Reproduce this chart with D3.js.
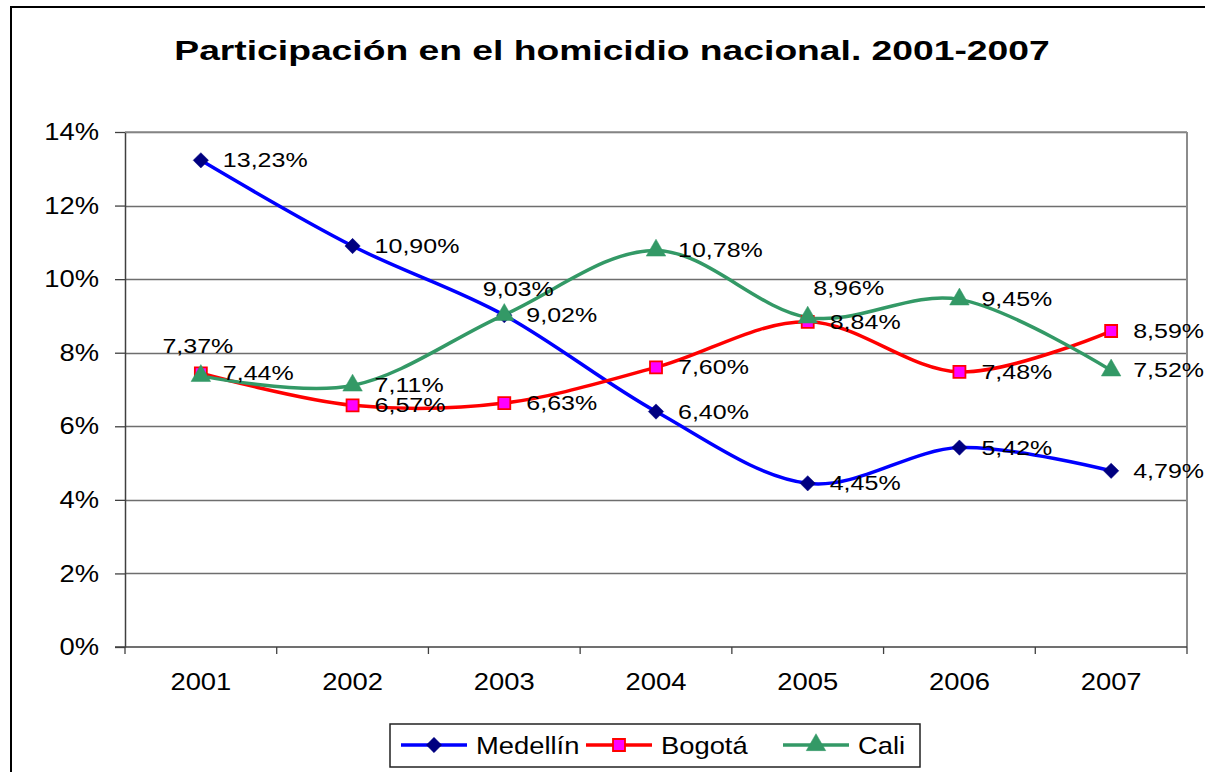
<!DOCTYPE html>
<html>
<head>
<meta charset="utf-8">
<script src="https://cdn.jsdelivr.net/npm/d3@7"></script>
<style>
  body { margin: 0; background: #fff; }
  svg { display: block; font-family: "Liberation Sans", Arial, sans-serif; }
</style>
</head>
<body>
<div id="chart"></div>
<script>
// Participación en el homicidio nacional, 2001-2007 (%)
const years = ["2001", "2002", "2003", "2004", "2005", "2006", "2007"];
const medellin = [13.23, 10.90, 9.02, 6.40, 4.45, 5.42, 4.79];
const bogota = [7.44, 6.57, 6.63, 7.60, 8.84, 7.48, 8.59];
const cali = [7.37, 7.11, 9.03, 10.78, 8.96, 9.45, 7.52];
const yTicks = [0, 2, 4, 6, 8, 10, 12, 14];

const w = 1205, h = 772;
const plot = { left: 125, right: 1187, top: 132, bottom: 647 };

const series = [
    { name: "Medellín", values: medellin, line: "#0000ff", marker: "diamond", fill: "#000080", stroke: "#000080" },
    { name: "Bogotá", values: bogota, line: "#ff0000", marker: "square", fill: "#ff00ff", stroke: "#ff0000" },
    { name: "Cali", values: cali, line: "#339966", marker: "triangle", fill: "#339966", stroke: "#339966" }
];

// labels that were moved above the point (to avoid overlapping)
const labelAbove = { "Cali-2001": [-3, -23], "Cali-2003": [14, -19], "Cali-2005": [41, -22] };

// the reference picture is stretched sideways, so text is too
function stretch(sel, sx) {
    sel.each(function() {
        let t = d3.select(this);
        let x = +t.attr("x") || 0;
        let y = +t.attr("y") || 0;
        t.attr("x", 0).attr("y", 0)
            .attr("transform", "translate(" + x + "," + y + ") scale(" + sx + ",1)");
    });
}

let svg = d3.select("#chart").append("svg")
    .attr("width", w)
    .attr("height", h);

// outer frame
svg.append("rect")
    .attr("x", 11).attr("y", 7)
    .attr("width", w + 20).attr("height", h + 20)
    .attr("fill", "#fff")
    .attr("stroke", "#000")
    .attr("stroke-width", 2);

let title = svg.append("text")
    .attr("x", 612).attr("y", 60)
    .attr("text-anchor", "middle")
    .style("font-size", "27px")
    .style("font-weight", "bold")
    .text("Participación en el homicidio nacional. 2001-2007");
stretch(title, 1.38);

let xScale = d3.scaleBand().domain(years).range([plot.left, plot.right]);
let yScale = d3.scaleLinear().domain([0, 14]).range([plot.bottom, plot.top]);

// gridlines
svg.append("g")
    .selectAll("line")
    .data(yTicks.filter(d => d > 0))
    .enter()
    .append("line")
    .attr("x1", plot.left).attr("x2", plot.right)
    .attr("y1", d => Math.round(yScale(d)) + 0.5)
    .attr("y2", d => Math.round(yScale(d)) + 0.5)
    .attr("stroke", "#6e6e6e")
    .attr("stroke-width", 1.3);

// plot border right
svg.append("line")
    .attr("x1", plot.right).attr("x2", plot.right)
    .attr("y1", plot.top).attr("y2", plot.bottom)
    .attr("stroke", "#8c8c8c")
    .attr("stroke-width", 2);

// y axis
let yAxis = d3.axisLeft(yScale)
    .tickValues(yTicks)
    .tickSize(10)
    .tickSizeOuter(0)
    .tickPadding(16)
    .tickFormat(d => d + "%");
let yg = svg.append("g")
    .attr("transform", "translate(" + plot.left + ",0)")
    .call(yAxis);
yg.select(".domain").attr("stroke", "#404040").attr("stroke-width", 1.5);
yg.selectAll(".tick line").attr("stroke", "#404040").attr("stroke-width", 1.3);
yg.selectAll(".tick text")
    .attr("fill", "#000")
    .style("font-size", "24px")
    .style("font-family", "Liberation Sans, Arial, sans-serif");
stretch(yg.selectAll(".tick text"), 1.14);

// x axis: labels centred in each category, ticks on category edges
let xAxis = d3.axisBottom(xScale).tickSize(0).tickPadding(26);
let xg = svg.append("g")
    .attr("transform", "translate(0," + plot.bottom + ")")
    .call(xAxis);
xg.select(".domain").remove();
xg.selectAll(".tick text")
    .attr("fill", "#000")
    .style("font-size", "24px")
    .style("font-family", "Liberation Sans, Arial, sans-serif");
stretch(xg.selectAll(".tick text"), 1.14);

svg.append("line")
    .attr("x1", plot.left - 10).attr("x2", plot.right)
    .attr("y1", plot.bottom).attr("y2", plot.bottom)
    .attr("stroke", "#404040")
    .attr("stroke-width", 1.5);
svg.append("g")
    .selectAll("line")
    .data(years.map(d => xScale(d)).concat([plot.right]))
    .enter()
    .append("line")
    .attr("x1", d => d).attr("x2", d => d)
    .attr("y1", plot.bottom).attr("y2", plot.bottom + 7)
    .attr("stroke", "#404040")
    .attr("stroke-width", 1.3);
svg.append("line")
    .attr("x1", plot.left).attr("x2", plot.right)
    .attr("y1", plot.top).attr("y2", plot.top)
    .attr("stroke", "#8c8c8c")
    .attr("stroke-width", 1.5);

function markerPath(type) {
    if (type === "diamond") return d3.symbol().type(d3.symbolDiamond2).size(150)();
    if (type === "square") return "M-6,-6H6V6H-6Z";
    return d3.symbol().type(d3.symbolTriangle).size(165)();
}

let cx = d => xScale(d) + xScale.bandwidth() / 2;
let line = d3.line()
    .x((d, i) => cx(years[i]))
    .y(d => yScale(d))
    .curve(d3.curveCardinal.tension(0));

series.forEach(function(s) {
    svg.append("path")
        .datum(s.values)
        .attr("d", line)
        .attr("fill", "none")
        .attr("stroke", s.line)
        .attr("stroke-width", 3.5)
        .attr("stroke-linejoin", "round");
});

series.forEach(function(s) {
    svg.append("g")
        .selectAll("path")
        .data(s.values)
        .enter()
        .append("path")
        .attr("d", markerPath(s.marker))
        .attr("transform", (d, i) => "translate(" + cx(years[i]) + "," + yScale(d) + ")")
        .attr("fill", s.fill)
        .attr("stroke", s.stroke)
        .attr("stroke-width", s.marker === "square" ? 1.8 : 0.5);
});

// data labels
series.forEach(function(s) {
    let labels = svg.append("g")
        .selectAll("text")
        .data(s.values)
        .enter()
        .append("text")
        .attr("x", (d, i) => {
            let nudge = labelAbove[s.name + "-" + years[i]];
            return nudge ? cx(years[i]) + nudge[0] : cx(years[i]) + 22;
        })
        .attr("y", (d, i) => {
            let nudge = labelAbove[s.name + "-" + years[i]];
            return nudge ? yScale(d) + nudge[1] : yScale(d) + 7;
        })
        .attr("text-anchor", (d, i) => labelAbove[s.name + "-" + years[i]] ? "middle" : "start")
        .style("font-size", "20.5px")
        .text(d => d.toFixed(2).replace(".", ",") + "%");
    stretch(labels, 1.22);
});

// legend
let legend = svg.append("g");
legend.append("rect")
    .attr("x", 390).attr("y", 724)
    .attr("width", 530).attr("height", 43)
    .attr("fill", "#fff")
    .attr("stroke", "#222")
    .attr("stroke-width", 1.5);

let legendX = [401, 586, 783];
series.forEach(function(s, i) {
    let g = legend.append("g").attr("transform", "translate(" + legendX[i] + ",745)");
    g.append("line")
        .attr("x1", 0).attr("x2", 66)
        .attr("stroke", s.line)
        .attr("stroke-width", 3.5);
    g.append("path")
        .attr("d", markerPath(s.marker))
        .attr("transform", "translate(33,0)")
        .attr("fill", s.fill)
        .attr("stroke", s.stroke)
        .attr("stroke-width", s.marker === "square" ? 1.8 : 0.5);
    let t = g.append("text")
        .attr("x", 75).attr("y", 9)
        .style("font-size", "24px")
        .text(s.name);
    stretch(t, 1.14);
});
</script>
</body>
</html>
